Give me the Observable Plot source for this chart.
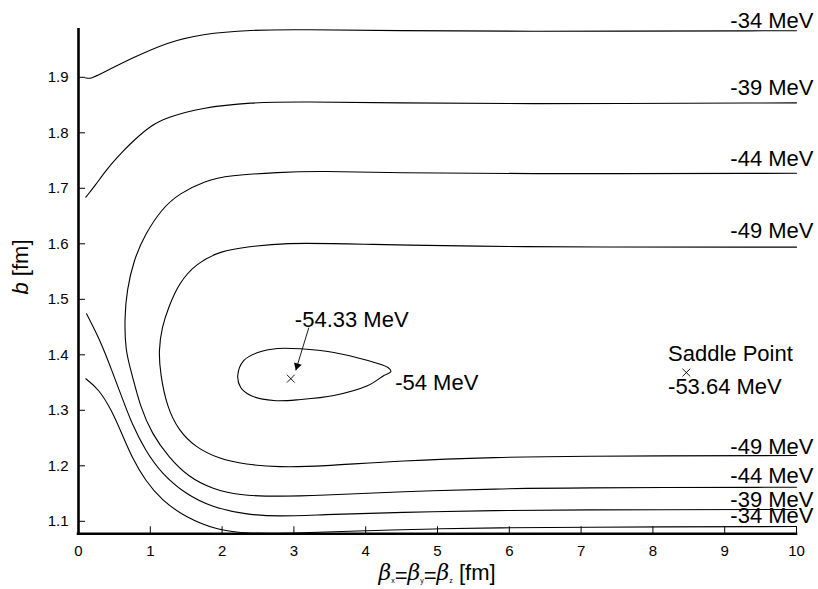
<!DOCTYPE html>
<html>
<head>
<meta charset="utf-8">
<script src="https://cdn.jsdelivr.net/npm/d3@7"></script>
<script src="https://cdn.jsdelivr.net/npm/@observablehq/plot@0.6"></script>
<style>
  html, body { margin: 0; padding: 0; background: white; }
  #chart { width: 818px; height: 589px; }
</style>
</head>
<body>
<div id="chart"></div>
<script>
// ---- Data ----
const xTicks = [0, 1, 2, 3, 4, 5, 6, 7, 8, 9, 10];
const yTicks = [1.1, 1.2, 1.3, 1.4, 1.5, 1.6, 1.7, 1.8, 1.9];
const xDomain = [0, 10];
const yDomain = [1.0775, 1.9856];

// contour -34 MeV (upper branch)
const c34upper = [[0.1,1.899],[0.167,1.897],[0.307,1.906],[0.767,1.936],[1.241,1.963],[1.702,1.978],[2.399,1.9856],[3.096,1.986],[4.491,1.984],[5.886,1.9825],[10,1.984]];
// contour -39 MeV (upper branch)
const c39upper = [[0.102,1.684],[0.233,1.705],[0.395,1.735],[0.628,1.768],[0.767,1.786],[1.004,1.813],[1.241,1.828],[1.702,1.845],[2.399,1.855],[3.096,1.856],[4.491,1.854],[5.886,1.852],[10,1.854]];
// contour -44 MeV (one curve, upper right round to lower right)
const c44 = [[10,1.727],[5.886,1.726],[4.491,1.728],[3.347,1.731],[2.789,1.729],[2.092,1.723],[1.767,1.714],[1.395,1.690],[1.162,1.663],[0.930,1.618],[0.767,1.570],[0.674,1.516],[0.642,1.468],[0.651,1.408],[0.743,1.366],[0.861,1.306],[1.022,1.258],[1.255,1.2155],[1.534,1.1795],[1.859,1.1586],[2.232,1.1465],[2.789,1.1447],[3.347,1.1465],[4.491,1.1537],[5.886,1.1586],[6.722,1.1604],[10,1.1614]];
// contour -49 MeV
const c49 = [[10,1.594],[5.886,1.594],[3.794,1.600],[2.859,1.602],[2.325,1.594],[1.999,1.588],[1.628,1.564],[1.395,1.528],[1.255,1.486],[1.162,1.450],[1.116,1.408],[1.139,1.366],[1.232,1.306],[1.395,1.2636],[1.628,1.2335],[1.953,1.2126],[2.325,1.2023],[2.789,1.1975],[3.347,1.1987],[4.491,1.2095],[5.886,1.2155],[6.722,1.2173],[10,1.2186]];
// contour -39 MeV (lower branch)
const c39lower = [[0.112,1.474],[0.303,1.426],[0.464,1.372],[0.604,1.3236],[0.743,1.2757],[0.930,1.2276],[1.162,1.1856],[1.488,1.1495],[1.859,1.1254],[2.325,1.1123],[2.789,1.1086],[3.347,1.1117],[4.491,1.1164],[5.886,1.1195],[6.722,1.1207],[10,1.1213]];
// contour -34 MeV (lower branch)
const c34lower = [[0.102,1.3568],[0.279,1.3387],[0.464,1.2996],[0.604,1.2577],[0.743,1.2155],[0.930,1.1735],[1.162,1.1375],[1.488,1.1074],[1.953,1.0834],[2.325,1.0778],[3.096,1.0786],[4.026,1.0834],[4.951,1.0865],[5.886,1.0883],[6.722,1.0894],[10,1.0906]];
// contour -54 MeV (closed loop)
const c54 = [[2.218,1.3627],[2.301,1.3897],[2.497,1.4041],[2.775,1.4114],[3.096,1.4108],[3.556,1.4041],[4.031,1.3897],[4.310,1.3771],[4.351,1.3699],[4.254,1.3627],[4.031,1.3447],[3.556,1.3267],[3.096,1.3195],[2.720,1.3177],[2.399,1.3267],[2.259,1.3411]];

// special points
const minimumPoint = [[2.957, 1.357]];
const saddlePoint = [[8.466, 1.368]];

// contour level labels (text, x, baseline y)
const levelLabels = ["-34 MeV", "-39 MeV", "-44 MeV", "-49 MeV", "-49 MeV", "-44 MeV", "-39 MeV", "-34 MeV"];
const levelLabelX = [10, 10, 10, 10, 10, 10, 10, 10];
const levelLabelY = [1.9892, 1.869, 1.7398, 1.6108, 1.2216, 1.1686, 1.1254, 1.0966];

// annotations
const noteTexts = ["-54.33 MeV", "-54 MeV", "Saddle Point", "-53.64 MeV"];
const noteX = [3.013, 4.411, 8.211, 8.211];
const noteY = [1.4497, 1.3357, 1.3897, 1.330];
const arrowFrom = [3.208, 1.449];
const arrowTo = [3.026, 1.372];

// ---- Build tables ----
const contourSets = {c34upper, c39upper, c44, c49, c39lower, c34lower};
const lines = [];
for (const [key, pts] of Object.entries(contourSets)) {
  for (const [x, y] of pts) lines.push({key, x, y});
}
const loop = c54.map(([x, y]) => ({x, y}));
const labelRows = levelLabels.map((t, i) => ({text: t, x: levelLabelX[i], y: levelLabelY[i]}));
const noteRows = noteTexts.map((t, i) => ({text: t, x: noteX[i], y: noteY[i]}));
const arrowRow = [{x1: arrowFrom[0], y1: arrowFrom[1], x2: arrowTo[0], y2: arrowTo[1]}];
const markers = [...minimumPoint, ...saddlePoint].map(([x, y]) => ({x, y}));

const W = 818, H = 589;
const mL = 78, mR = 22, mT = 29.3, mB = 55.7;
const frameW = W - mL - mR, frameH = H - mT - mB;
const FONT = "'Liberation Sans', Arial, Helvetica, sans-serif";

const plot = Plot.plot({
  width: W,
  height: H,
  marginLeft: mL,
  marginRight: mR,
  marginTop: mT,
  marginBottom: mB,
  style: {fontFamily: FONT, fontSize: "15px", background: "white", color: "black", overflow: "visible"},
  x: {domain: xDomain},
  y: {domain: yDomain},
  marks: [
    // contour lines
    Plot.line(lines, {x: "x", y: "y", z: "key", stroke: "black", strokeWidth: 1.1, curve: "basis"}),
    Plot.line(loop, {x: "x", y: "y", stroke: "black", strokeWidth: 1.1, curve: "catmull-rom-closed"}),
    // inward ticks
    Plot.tickX(xTicks, {x: d => d, stroke: "black", strokeWidth: 1, insetTop: frameH - 7}),
    Plot.tickY(yTicks, {y: d => d, stroke: "black", strokeWidth: 1, insetRight: frameW - 7}),
    // axis labels
    Plot.axisX({ticks: xTicks, tickSize: 0, tickPadding: 12, label: null, fontSize: 15, tickFormat: d => String(d)}),
    Plot.axisY({ticks: yTicks, tickSize: 0, tickPadding: 10, label: null, fontSize: 15, tickFormat: d => d.toFixed(1)}),
    // axis lines
    Plot.ruleX([xDomain[0]], {stroke: "black", strokeWidth: 2.6, strokeLinecap: "square"}),
    Plot.ruleY([yDomain[0]], {stroke: "black", strokeWidth: 2.6, strokeLinecap: "square"}),
    // markers
    Plot.dot(markers, {x: "x", y: "y", symbol: "times", r: 3.6, stroke: "black", strokeWidth: 0.9}),
    // arrow
    Plot.link(arrowRow, {x1: "x1", y1: "y1", x2: "x2", y2: "y2", stroke: "black", strokeWidth: 0.9}),
    Plot.dot(arrowRow, {x: "x2", y: "y2", symbol: "triangle", r: 3, fill: "black", stroke: "none", rotate: 197, dx: 1.4, dy: -4.5}),
    // level labels
    Plot.text(labelRows, {x: "x", y: "y", text: "text", textAnchor: "end", lineAnchor: "bottom", dx: 17, fontSize: 22, fill: "black"}),
    // notes
    Plot.text(noteRows, {x: "x", y: "y", text: "text", textAnchor: "start", lineAnchor: "bottom", fontSize: 22, fill: "black"})
  ]
});

document.getElementById("chart").appendChild(plot);

// axis titles with rich text (italic / subscripts)
const svg = d3.select(plot);
const yt = svg.append("text")
  .attr("transform", "translate(28,267) rotate(-90)")
  .attr("text-anchor", "middle")
  .attr("font-family", FONT)
  .attr("font-size", 22)
  .attr("fill", "black");
yt.append("tspan").attr("font-style", "italic").text("b");
yt.append("tspan").text(" [fm]");

const xt = svg.append("text")
  .attr("x", 437)
  .attr("y", 580)
  .attr("text-anchor", "middle")
  .attr("font-family", FONT)
  .attr("font-size", 22)
  .attr("fill", "black");
const subs = ["x", "y", "z"];
subs.forEach((s, i) => {
  xt.append("tspan").attr("font-style", "italic").attr("font-family", "'DejaVu Serif', serif").attr("dy", i === 0 ? 0 : -3).text("β");
  xt.append("tspan").attr("font-size", 7).attr("dy", 3).text(s);
  if (i < 2) xt.append("tspan").attr("dy", -3).attr("dy", 0).text("=");
});
xt.append("tspan").attr("dy", -3).text(" [fm]");
</script>
</body>
</html>
